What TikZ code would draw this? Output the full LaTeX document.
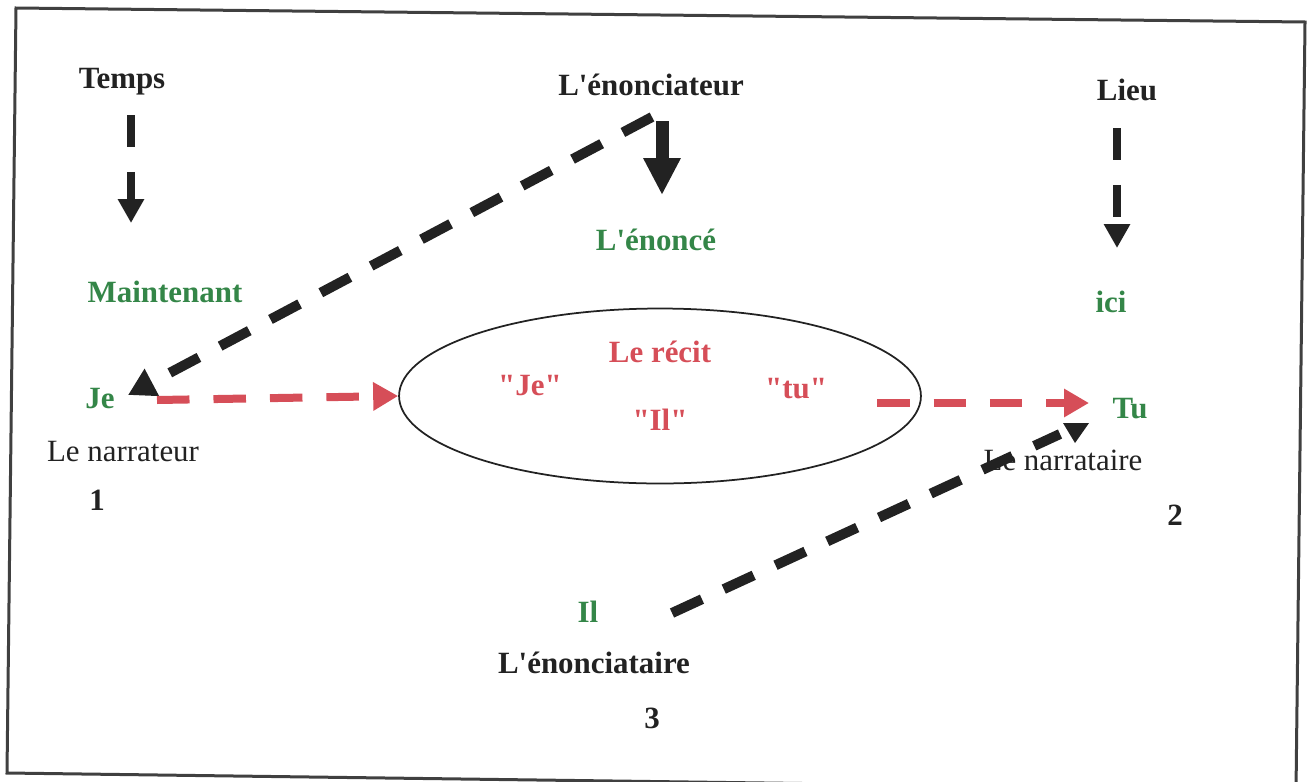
\documentclass[tikz,border=0pt]{standalone}
\usepackage{fontspec}
\setmainfont{Liberation Serif}[Ligatures=TeXOff]
\usetikzlibrary{arrows.meta,shapes.geometric}
\definecolor{tgreen}{RGB}{52,134,72}
\definecolor{tred}{RGB}{214,78,88}
\definecolor{tblack}{RGB}{34,34,34}
\newcommand{\fsz}{\fontsize{17.6}{21}\selectfont}
\tikzset{
  lbl/.style={font=\bfseries\fsz, anchor=base, inner sep=0pt, text=tblack},
  grn/.style={lbl, text=tgreen},
  rd/.style={lbl, text=tred},
  reg/.style={font=\fsz, anchor=base, inner sep=0pt, text=tblack},
  blkdash/.style={draw=tblack, line width=0.2cm, dash pattern=on 0.66cm off 0.48cm},
  reddash/.style={draw=tred, line width=0.16cm, dash pattern=on 0.65cm off 0.48cm,
    -{Triangle[length=0.5cm,width=0.54cm]}},
  vdash/.style={draw=tblack, line width=0.17cm, dash pattern=on 0.64cm off 0.5cm,
    -{Triangle[length=0.48cm,width=0.5cm]}},
}
\begin{document}
\begin{tikzpicture}[x=0.02cm,y=-0.02cm]
\useasboundingbox (0,0) rectangle (1310,781);
% frame
\draw[line width=0.06cm, draw=black!75] (16,8) -- (1305,22) -- (1296,790) -- (7,773) -- cycle;

% labels
\node[lbl] (temps) at (122,88) {Temps};
\node[lbl] (enonciateur) at (651,95) {L'énonciateur};
\node[lbl] (lieu) at (1127,100) {Lieu};
\node[grn] (enonce) at (656,250) {L'énoncé};
\node[grn] (maint) at (165,302) {Maintenant};
\node[grn] (ici) at (1111,312) {ici};
\node[grn] (je) at (100,408) {Je};
\node[reg] (narrateur) at (123,461) {Le narrateur};
\node[lbl] (n1) at (97,510) {1};
\node[grn] (tu) at (1130,418) {Tu};
\node[reg] (narrataire) at (1063,470) {Le narrataire};
\node[lbl] (n2) at (1175,525) {2};
\node[grn] (il) at (588,622) {Il};
\node[lbl] (enonciataire) at (594,673) {L'énonciataire};
\node[lbl] (n3) at (652,728) {3};

% ellipse
\node[draw=tblack, line width=0.035cm, ellipse, inner sep=0pt,
  minimum width=10.44cm, minimum height=3.5cm] (recit) at (660,396) {};
\node[rd] (lerecit) at (660,362) {Le récit};
\node[rd] (qje) at (530,395) {"Je"};
\node[rd] (qtu) at (796,398) {"tu"};
\node[rd] (qil) at (660,430) {"Il"};

% coordinates for connectors
\coordinate (tA) at (131,115);
\coordinate (tB) at (131,223);
\coordinate (lA) at (1117,128);
\coordinate (lB) at (1117,248);
\coordinate (eA) at (662,121);
\coordinate (eB) at (662,195);
\coordinate (jeTip) at (128,395);
\coordinate (eStart) at (652,117);
\coordinate (jeStart) at (157,400);
\coordinate (tuStart) at (877,403);
\coordinate (tuTip) at (1089,403);
\coordinate (ilStart) at (672,613);
\coordinate (tuEnd) at (1060,434);

% vertical dashed arrows
\draw[vdash] (tA) -- (tB);
\draw[vdash] (lA) -- (lB);
% solid thick arrow
\draw[draw=tblack, line width=0.26cm, -{Triangle[length=0.74cm,width=0.7cm]}] (eA) -- (eB);

% black dashed from enonciateur to Je
\draw[blkdash, -{Triangle[length=0.54cm,width=0.58cm]}] (eStart) -- (jeTip);
% black dashed from Il to Tu
\draw[blkdash] (ilStart) -- (tuEnd);
\fill[tblack] (1063,423) -- (1089,423) -- (1075,443) -- cycle;

% red dashed arrows
\draw[reddash] (jeStart) -- (recit.west);
\draw[reddash] (tuStart) -- (tuTip);
\end{tikzpicture}
\end{document}
